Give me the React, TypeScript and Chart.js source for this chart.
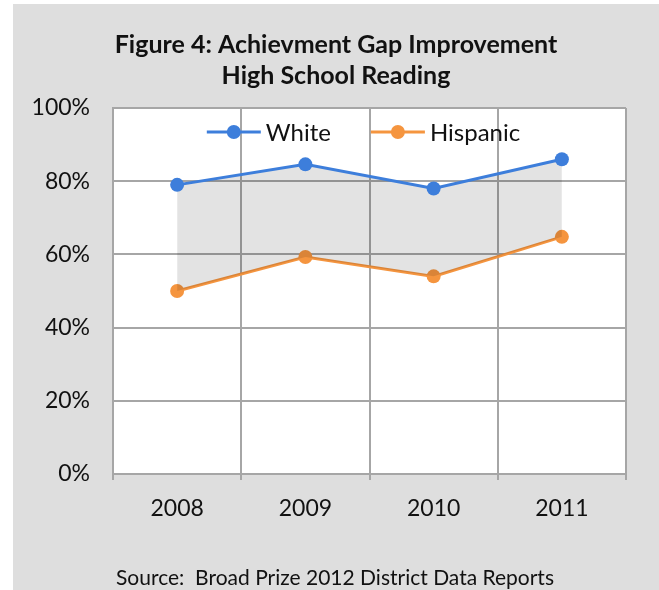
import React, { useEffect, useRef } from "react";
import { Chart, registerables } from "chart.js";

Chart.register(...registerables);

const TITLE_LINES = ["Figure 4: Achievment Gap Improvement", "High School Reading"];
const SOURCE_TEXT = "Source:  Broad Prize 2012 District Data Reports";
const YEARS = ["2008", "2009", "2010", "2011"];
const WHITE = [79, 84.6, 78, 86];
const HISPANIC = [50, 59.3, 54, 64.8];
const SERIES_NAMES = ["White", "Hispanic"];
const Y_MIN = 0;
const Y_MAX = 100;
const Y_STEP = 20;

const BLUE = "#3d7edb";
const ORANGE = "#f5953f";
const GRID = "#a6a6a6";
const PANEL = "#dedede";
const TEXT_FONT = "Lato, 'Open Sans', sans-serif";

const W = 646;
const H = 586;

const bgPlugin = {
  id: "plotBg",
  beforeDraw(chart: any) {
    const { ctx, chartArea: a } = chart;
    ctx.save();
    ctx.fillStyle = "#ffffff";
    ctx.fillRect(a.left, a.top, a.right - a.left, a.bottom - a.top);
    ctx.restore();
  },
};

const decorPlugin = {
  id: "decor",
  afterDatasetsDraw(chart: any) {
    const ctx = chart.ctx;
    const area = chart.chartArea;
    ctx.save();
    // title
    ctx.fillStyle = "#111";
    ctx.textAlign = "center";
    ctx.textBaseline = "middle";
    ctx.font = "bold 25px Lato, 'Open Sans', sans-serif";
    TITLE_LINES.forEach((t, i) => {
      ctx.fillText(t, chart.width / 2, 41 + i * 31);
    });
    // source
    ctx.font = "21px " + TEXT_FONT;
    ctx.fillText(SOURCE_TEXT, chart.width / 2 - 1, 574);

    // legend
    ctx.font = "24px " + TEXT_FONT;
    const lineLen = 54;
    const gapText = 5;
    const itemGap = 40;
    const colors = [BLUE, ORANGE];
    const widths = SERIES_NAMES.map((n) => lineLen + gapText + ctx.measureText(n).width);
    const total = widths.reduce((a, b) => a + b, 0) + itemGap * (widths.length - 1);
    let x = (area.left + area.right) / 2 - total / 2 - 6;
    const y = area.top + 24;
    SERIES_NAMES.forEach((n, i) => {
      ctx.strokeStyle = colors[i];
      ctx.lineWidth = 3;
      ctx.beginPath();
      ctx.moveTo(x, y);
      ctx.lineTo(x + lineLen, y);
      ctx.stroke();
      ctx.fillStyle = colors[i];
      ctx.beginPath();
      ctx.arc(x + lineLen / 2, y, 7, 0, Math.PI * 2);
      ctx.fill();
      ctx.fillStyle = "#111";
      ctx.textAlign = "left";
      ctx.fillText(n, x + lineLen + gapText, y + 1);
      x += widths[i] + itemGap;
    });
    ctx.restore();
  },
};

export default function App() {
  const ref = useRef<HTMLCanvasElement | null>(null);
  useEffect(() => {
    if (!ref.current) return;
    const chart = new Chart(ref.current, {
      type: "line",
      data: {
        labels: YEARS,
        datasets: [
          {
            label: SERIES_NAMES[0],
            data: WHITE,
            borderColor: BLUE,
            backgroundColor: "rgba(0,0,0,0.11)",
            pointBackgroundColor: BLUE,
            pointBorderColor: BLUE,
            borderWidth: 3,
            pointRadius: 7,
            pointBorderWidth: 0,
            fill: "+1",
            tension: 0,
          },
          {
            label: SERIES_NAMES[1],
            data: HISPANIC,
            borderColor: ORANGE,
            backgroundColor: ORANGE,
            pointBackgroundColor: ORANGE,
            pointBorderColor: ORANGE,
            borderWidth: 3,
            pointRadius: 7,
            pointBorderWidth: 0,
            fill: false,
            tension: 0,
          },
        ],
      },
      options: {
        responsive: false,
        animation: false,
        layout: { padding: { top: 104, left: 0, right: 33, bottom: 56 } },
        plugins: {
          legend: { display: false },
          title: { display: false },
          tooltip: { enabled: false },
        },
        scales: {
          x: {
            offset: true,
            grid: {
              offset: true,
              color: GRID,
              lineWidth: 2,
              drawTicks: true,
              tickLength: 6,
              tickColor: GRID,
            },
            border: { color: GRID, width: 2 },
            ticks: {
              color: "#111",
              font: { family: TEXT_FONT, size: 23 },
              padding: 15,
              maxRotation: 0,
            },
            afterFit: (scale: any) => {
              scale.height = 60;
            },
          },
          y: {
            min: Y_MIN,
            max: Y_MAX,
            grid: { color: GRID, lineWidth: 2, drawTicks: false },
            border: { color: GRID, width: 2 },
            ticks: {
              stepSize: Y_STEP,
              color: "#111",
              font: { family: TEXT_FONT, size: 23 },
              padding: 23,
              callback: (v: any) => v + "%",
            },
            afterFit: (scale: any) => {
              scale.width = 100;
            },
          },
        },
      },
      plugins: [bgPlugin, decorPlugin],
    });
    return () => chart.destroy();
  }, []);

  return (
    <div style={{ position: "absolute", left: 0, top: 0, width: 659, height: 590, background: "#fff" }}>
      <div style={{ position: "absolute", left: 13, top: 4, width: W, height: H, background: PANEL }}>
        <canvas ref={ref} width={W} height={H} style={{ display: "block", width: W, height: H }} />
      </div>
    </div>
  );
}
